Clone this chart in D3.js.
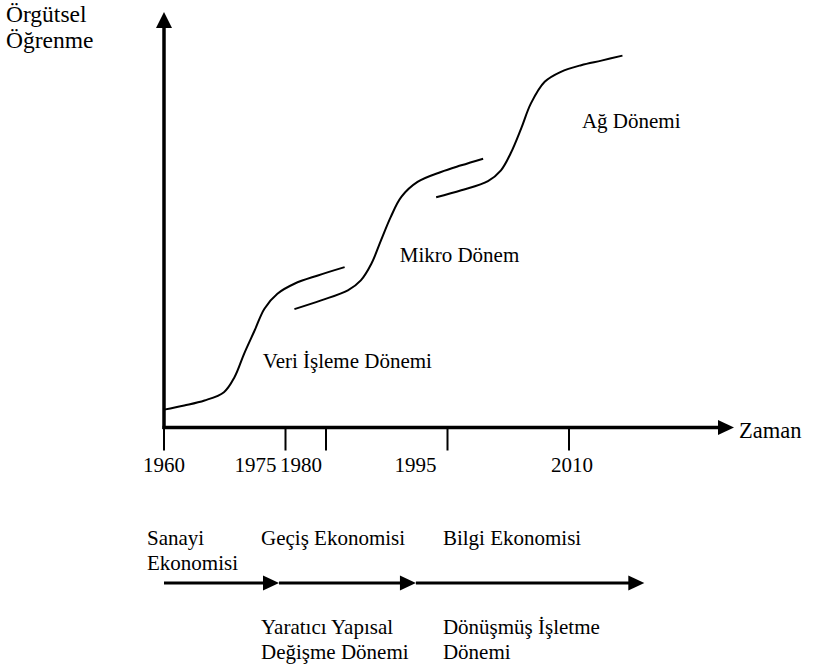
<!DOCTYPE html>
<html>
<head>
<meta charset="utf-8">
<script src="https://cdn.jsdelivr.net/npm/d3@7"></script>
<style>
  body { margin: 0; background: #fff; }
  text { font-family: "Liberation Serif", "Times New Roman", serif; font-size: 21px; fill: #000; }
</style>
</head>
<body>
<svg id="chart" width="831" height="669"></svg>
<script>
// ---- data ----
const years = [1960, 1975, 1980, 1995, 2010];
const yTitle = ["Örgütsel", "Öğrenme"];
const xTitle = "Zaman";

// learning curves as [year, level]
const veriCurve = [[1960, 4.3], [1962.5, 5.3], [1965, 6.5], [1967.4, 8.5], [1968.7, 12.1], [1969.9, 17.8],
    [1971.2, 23.4], [1972.4, 28.6], [1974, 32.2], [1976.1, 34.6], [1979, 36.6], [1982.3, 38.6]];
const mikroCurve = [[1976.1, 28.5], [1979.4, 30.6], [1982.7, 33.0], [1984.3, 35.4], [1985.6, 39.4], [1986.8, 45.1],
    [1988, 50.7], [1989.3, 55.5], [1991.3, 59.1], [1994.2, 61.5], [1996.7, 63.1], [1999.4, 64.7]];
const agCurve = [[1993.6, 55.4], [1996.7, 57.1], [2000, 59.3], [2001.6, 61.9], [2002.8, 66.0], [2004.1, 72.0],
    [2005.3, 78.0], [2007, 83.2], [2009, 85.6], [2011.5, 87.2], [2014, 88.3], [2016.6, 89.5]];
const curves = [veriCurve, mikroCurve, agCurve];

const phaseNames = ["Veri İşleme Dönemi", "Mikro Dönem", "Ağ Dönemi"];
const phaseAt = [[1972.2, 14.2], [1989.1, 39.8], [2011.6, 72.0]];

// economy timeline below the axis
const eraBreaks = [1960, 1974.2, 1991.1, 2019.3];
const economyNames = [["Sanayi", "Ekonomisi"], ["Geçiş Ekonomisi"], ["Bilgi Ekonomisi"]];
const periodNames = [[], ["Yaratıcı Yapısal", "Değişme Dönemi"], ["Dönüşmüş İşletme", "Dönemi"]];

// ---- layout ----
const svg = d3.select("#chart");
const x = d3.scaleLinear().domain([1960, 2010]).range([164, 569]);
const y = d3.scaleLinear().domain([0, 100]).range([427.5, 12]);

const axisEnd = 734;     // x-axis arrow tip
const tickLen = 23;
const yearBase = 472;
const yearDx = [0, -30, -25, -32, 3];
const econY = 583;
const econText = 545;
const periodText = 634;
const lineGap = 24.5;
const econDx = [-17, -18, 27];

function arrowHead(px, py, dir) {
    // dir: "up" or "right"
    const p = d3.path();
    if (dir == "up") {
        p.moveTo(px, py); p.lineTo(px - 8, py + 16); p.lineTo(px + 8, py + 16);
    } else {
        p.moveTo(px, py); p.lineTo(px - 16, py - 7.5); p.lineTo(px - 16, py + 7.5);
    }
    p.closePath();
    svg.append("path").attr("d", p.toString()).attr("fill", "#000");
}

// y axis
svg.append("line")
    .attr("x1", x(1960)).attr("x2", x(1960))
    .attr("y1", y(0) + 1.5).attr("y2", y(100) + 12)
    .attr("stroke", "#000").attr("stroke-width", 3.5);
arrowHead(x(1960), y(100), "up");

// x axis
svg.append("line")
    .attr("x1", x(1960) - 1.5).attr("x2", axisEnd - 12)
    .attr("y1", y(0)).attr("y2", y(0))
    .attr("stroke", "#000").attr("stroke-width", 3.5);
arrowHead(axisEnd, y(0), "right");

// ticks + year labels
svg.selectAll(".tick").data(years).enter().append("line")
    .attr("class", "tick")
    .attr("x1", d => x(d)).attr("x2", d => x(d))
    .attr("y1", y(0)).attr("y2", y(0) + tickLen)
    .attr("stroke", "#000").attr("stroke-width", 2);

svg.selectAll(".year").data(years).enter().append("text")
    .attr("class", "year")
    .attr("x", (d, i) => x(d) + yearDx[i]).attr("y", yearBase)
    .attr("text-anchor", "middle")
    .text(d => d);

// axis titles
svg.append("text").attr("x", 6).attr("y", 22)
    .style("font-size", "23.5px")
    .selectAll("tspan").data(yTitle).enter().append("tspan")
    .attr("x", 6).attr("dy", (d, i) => i ? 25.5 : 0)
    .text(d => d);
svg.append("text").attr("x", axisEnd + 5).attr("y", y(0) + 10)
    .style("font-size", "22.5px")
    .text(xTitle);

// learning curves
const line = d3.line().x(d => x(d[0])).y(d => y(d[1])).curve(d3.curveCatmullRom.alpha(0.5));
svg.selectAll(".curve").data(curves).enter().append("path")
    .attr("class", "curve")
    .attr("d", line)
    .attr("fill", "none").attr("stroke", "#000").attr("stroke-width", 2);

svg.selectAll(".phase").data(phaseNames).enter().append("text")
    .attr("class", "phase")
    .attr("x", (d, i) => x(phaseAt[i][0]))
    .attr("y", (d, i) => y(phaseAt[i][1]))
    .text(d => d);

// economy arrows
for (let i = 0; i < eraBreaks.length - 1; i++) {
    const x0 = x(eraBreaks[i]), x1 = x(eraBreaks[i + 1]);
    svg.append("line")
        .attr("x1", x0).attr("x2", x1 - 12)
        .attr("y1", econY).attr("y2", econY)
        .attr("stroke", "#000").attr("stroke-width", 3);
    arrowHead(x1, econY, "right");
}

// economy + period labels
economyNames.forEach((lines, i) => {
    const t = svg.append("text");
    t.selectAll("tspan").data(lines).enter().append("tspan")
        .attr("x", x(eraBreaks[i]) + econDx[i])
        .attr("y", (d, j) => econText + j * lineGap)
        .text(d => d);
});
periodNames.forEach((lines, i) => {
    const t = svg.append("text");
    t.selectAll("tspan").data(lines).enter().append("tspan")
        .attr("x", x(eraBreaks[i]) + econDx[i])
        .attr("y", (d, j) => periodText + j * lineGap)
        .text(d => d);
});
</script>
</body>
</html>
